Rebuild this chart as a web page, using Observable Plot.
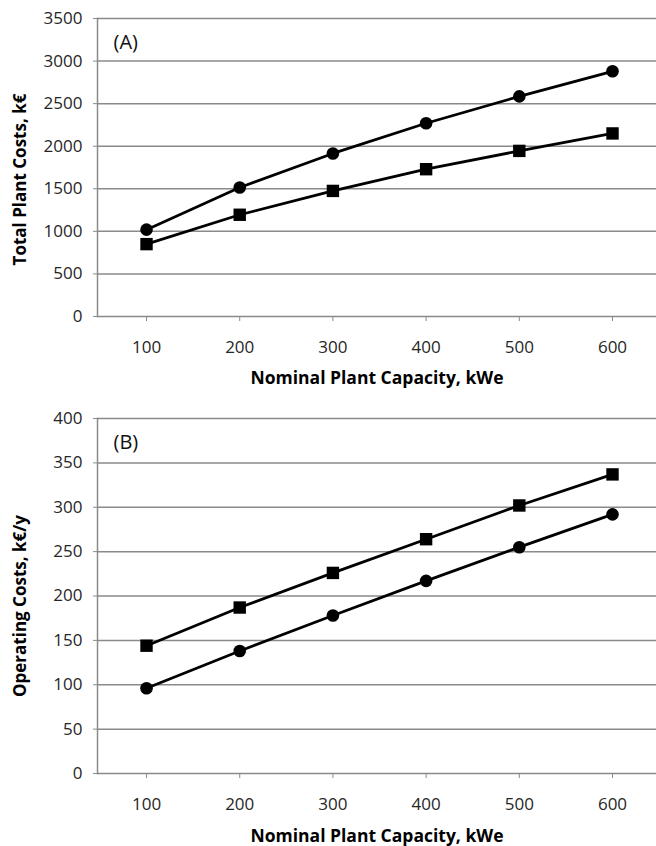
<!DOCTYPE html>
<html>
<head>
<meta charset="utf-8">
<script src="https://cdn.jsdelivr.net/npm/d3@7"></script>
<script src="https://cdn.jsdelivr.net/npm/@observablehq/plot@0.6"></script>
<style>
  html, body { margin: 0; padding: 0; background: #fff; }
  #chart svg { display: block; }
</style>
</head>
<body>
<div id="chart"></div>
<script>
// ---- data ----
const capacity = [100, 200, 300, 400, 500, 600];
const totalCircle = [1020, 1515, 1915, 2270, 2585, 2880];
const totalSquare = [850, 1195, 1475, 1730, 1945, 2150];
const opCircle = [96, 138, 178, 217, 255, 292];
const opSquare = [144, 187, 226, 264, 302, 337];
const yTicksA = [0, 500, 1000, 1500, 2000, 2500, 3000, 3500];
const yTicksB = [0, 50, 100, 150, 200, 250, 300, 350, 400];
const xTitle = "Nominal Plant Capacity, kWe";
const yTitleA = "Total Plant Costs, k€";
const yTitleB = "Operating Costs, k€/y";

const GRID = "#8a8a8a";
const FONT = "'Open Sans', Lato, sans-serif";

function rows(circle, square) {
  return capacity.flatMap((c, i) => [
    {cap: c, v: circle[i], s: "circle"},
    {cap: c, v: square[i], s: "square"}
  ]);
}

function panel({data, yDomain, yTicks, tag, yTitle, height, marginBottom, titleDy, yTitleDy}) {
  const circ = data.filter(d => d.s === "circle");
  const sq = data.filter(d => d.s === "square");
  return Plot.plot({
    width: 656,
    height,
    marginTop: 18,
    marginBottom,
    marginLeft: 97,
    marginRight: 0,
    style: {fontFamily: FONT, fontSize: "17px", color: "#222", background: "#fff"},
    x: {domain: [47.4, 647.2]},
    y: {domain: yDomain},
    marks: [
      Plot.ruleY(yTicks, {stroke: GRID, strokeWidth: 1.5}),
      Plot.frame({anchor: "left", stroke: GRID, strokeWidth: 1.5}),
      Plot.axisY({ticks: yTicks, tickSize: 4, tickPadding: 11, stroke: GRID, fill: "#262626",
        tickFormat: d => String(d), label: null, fontSize: 17}),
      Plot.axisX({ticks: capacity, tickSize: 5, tickPadding: 19, stroke: GRID, fill: "#262626",
        tickFormat: d => String(d), label: null, fontSize: 17}),
      Plot.line(circ, {x: "cap", y: "v", stroke: "#000", strokeWidth: 2.8}),
      Plot.line(sq, {x: "cap", y: "v", stroke: "#000", strokeWidth: 2.8}),
      Plot.dot(circ, {x: "cap", y: "v", symbol: "circle", r: 6.3, fill: "#000"}),
      Plot.dot(sq, {x: "cap", y: "v", symbol: "square", r: 7, fill: "#000"}),
      Plot.text([tag], {frameAnchor: "top-left", dx: 16, dy: 24, fontSize: 20, fill: "#111",
        textAnchor: "start", lineAnchor: "middle"}),
      Plot.text([xTitle], {frameAnchor: "bottom", dx: 0, dy: titleDy, fontSize: 17.5,
        fontWeight: "bold", fill: "#000", textAnchor: "middle", lineAnchor: "middle"}),
      Plot.text([yTitle], {frameAnchor: "left", rotate: -90, dx: -77, dy: yTitleDy, fontSize: 17,
        fontWeight: "bold", fill: "#000", textAnchor: "middle", lineAnchor: "middle"})
    ]
  });
}

const chart = document.getElementById("chart");
chart.appendChild(panel({
  data: rows(totalCircle, totalSquare), yDomain: [0, 3500], yTicks: yTicksA,
  tag: "(A)", yTitle: yTitleA, height: 400, marginBottom: 84, titleDy: 62, yTitleDy: 12
}));
chart.appendChild(panel({
  data: rows(opCircle, opSquare), yDomain: [0, 400], yTicks: yTicksB,
  tag: "(B)", yTitle: yTitleB, height: 446, marginBottom: 73, titleDy: 63, yTitleDy: 10
}));
</script>
</body>
</html>
